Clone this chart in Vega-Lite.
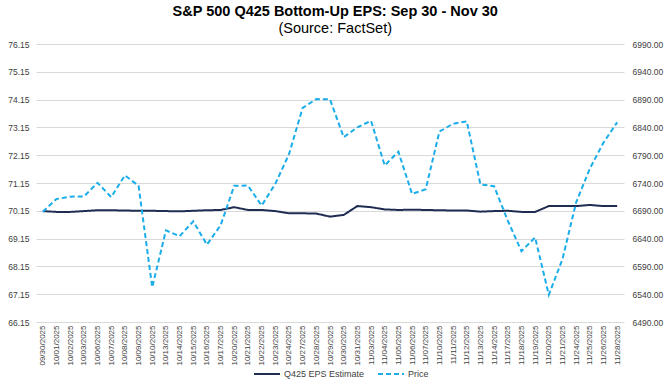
{
  "$schema": "https://vega.github.io/schema/vega-lite/v6.json",
  "width": 588,
  "height": 278,
  "autosize": {"type": "none"},
  "padding": {"left": 36, "top": 44, "right": 48, "bottom": 62},
  "background": "white",
  "config": {
    "font": "Liberation Sans",
    "view": {"stroke": null}
  },
  "title": {
    "text": "S&P 500 Q425 Bottom-Up EPS: Sep 30 - Nov 30",
    "subtitle": "(Source: FactSet)",
    "anchor": "middle",
    "frame": "bounds",
    "fontSize": 14.5,
    "fontWeight": "bold",
    "color": "#000000",
    "subtitleFontSize": 14.5,
    "subtitleColor": "#000000",
    "subtitlePadding": 2,
    "offset": 4
  },
  "data": {
    "values": [
      {"date": "09/30/2025", "eps": 70.14, "price": 6688.46},
      {"date": "10/01/2025", "eps": 70.11, "price": 6711.20},
      {"date": "10/02/2025", "eps": 70.11, "price": 6715.35},
      {"date": "10/03/2025", "eps": 70.14, "price": 6715.79},
      {"date": "10/06/2025", "eps": 70.17, "price": 6740.28},
      {"date": "10/07/2025", "eps": 70.17, "price": 6714.59},
      {"date": "10/08/2025", "eps": 70.16, "price": 6753.72},
      {"date": "10/09/2025", "eps": 70.15, "price": 6735.11},
      {"date": "10/10/2025", "eps": 70.15, "price": 6552.51},
      {"date": "10/13/2025", "eps": 70.14, "price": 6654.72},
      {"date": "10/14/2025", "eps": 70.13, "price": 6644.31},
      {"date": "10/15/2025", "eps": 70.15, "price": 6671.06},
      {"date": "10/16/2025", "eps": 70.17, "price": 6629.07},
      {"date": "10/17/2025", "eps": 70.18, "price": 6664.01},
      {"date": "10/20/2025", "eps": 70.28, "price": 6735.13},
      {"date": "10/21/2025", "eps": 70.18, "price": 6735.35},
      {"date": "10/22/2025", "eps": 70.18, "price": 6699.40},
      {"date": "10/23/2025", "eps": 70.14, "price": 6738.44},
      {"date": "10/24/2025", "eps": 70.06, "price": 6791.69},
      {"date": "10/27/2025", "eps": 70.06, "price": 6875.16},
      {"date": "10/28/2025", "eps": 70.05, "price": 6890.89},
      {"date": "10/29/2025", "eps": 69.94, "price": 6890.59},
      {"date": "10/30/2025", "eps": 70.00, "price": 6822.34},
      {"date": "10/31/2025", "eps": 70.32, "price": 6840.20},
      {"date": "11/03/2025", "eps": 70.28, "price": 6851.97},
      {"date": "11/04/2025", "eps": 70.20, "price": 6771.55},
      {"date": "11/05/2025", "eps": 70.18, "price": 6796.29},
      {"date": "11/06/2025", "eps": 70.19, "price": 6720.32},
      {"date": "11/07/2025", "eps": 70.18, "price": 6728.80},
      {"date": "11/10/2025", "eps": 70.17, "price": 6832.43},
      {"date": "11/11/2025", "eps": 70.16, "price": 6846.61},
      {"date": "11/12/2025", "eps": 70.16, "price": 6850.92},
      {"date": "11/13/2025", "eps": 70.12, "price": 6737.49},
      {"date": "11/14/2025", "eps": 70.14, "price": 6734.11},
      {"date": "11/17/2025", "eps": 70.15, "price": 6672.41},
      {"date": "11/18/2025", "eps": 70.11, "price": 6617.32},
      {"date": "11/19/2025", "eps": 70.11, "price": 6642.16},
      {"date": "11/20/2025", "eps": 70.32, "price": 6538.76},
      {"date": "11/21/2025", "eps": 70.32, "price": 6602.99},
      {"date": "11/24/2025", "eps": 70.32, "price": 6705.12},
      {"date": "11/25/2025", "eps": 70.36, "price": 6765.88},
      {"date": "11/26/2025", "eps": 70.32, "price": 6812.61},
      {"date": "11/28/2025", "eps": 70.32, "price": 6849.09}
    ]
  },
  "transform": [{"fold": ["eps", "price"], "as": ["series", "value"]}],
  "encoding": {
    "x": {
      "field": "date",
      "type": "ordinal",
      "sort": null,
      "scale": {"type": "point", "padding": 0.5},
      "axis": {
        "title": null,
        "labelAngle": 270,
        "labelFontSize": 8,
        "labelColor": "#404040",
        "labelPadding": 3,
        "ticks": false,
        "domain": false,
        "grid": false
      }
    },
    "color": {
      "field": "series",
      "type": "nominal",
      "scale": {"domain": ["eps", "price"], "range": ["#1F2D52", "#1AADEA"]},
      "legend": {
        "title": null,
        "orient": "none",
        "legendX": 217,
        "legendY": 316,
        "direction": "horizontal",
        "symbolType": "stroke",
        "symbolSize": 676,
        "symbolStrokeWidth": 2,
        "labelFontSize": 9,
        "labelColor": "#404040",
        "labelOffset": 3,
        "columnPadding": 9,
        "labelExpr": "datum.label === 'eps' ? 'Q425 EPS Estimate' : 'Price'"
      }
    },
    "strokeDash": {
      "field": "series",
      "type": "nominal",
      "scale": {"domain": ["eps", "price"], "range": [[1, 0], [5, 3]]},
      "legend": {
        "title": null,
        "orient": "none",
        "legendX": 217,
        "legendY": 316,
        "direction": "horizontal",
        "symbolType": "stroke",
        "symbolSize": 676,
        "symbolStrokeWidth": 2,
        "labelFontSize": 9,
        "labelColor": "#404040",
        "labelOffset": 3,
        "columnPadding": 9,
        "labelExpr": "datum.label === 'eps' ? 'Q425 EPS Estimate' : 'Price'"
      }
    }
  },
  "layer": [
    {
      "transform": [{"filter": "datum.series === 'eps'"}],
      "mark": {"type": "line", "strokeWidth": 2},
      "encoding": {
        "y": {
          "field": "value",
          "type": "quantitative",
          "scale": {"domain": [66.15, 76.15], "nice": false, "zero": false},
          "axis": {
            "title": null,
            "orient": "left",
            "values": [66.15, 67.15, 68.15, 69.15, 70.15, 71.15, 72.15, 73.15, 74.15, 75.15, 76.15],
            "format": ".2f",
            "labelFontSize": 8.5,
            "labelColor": "#404040",
            "labelPadding": 7,
            "ticks": false,
            "domain": false,
            "grid": true,
            "gridColor": "#D9D9D9",
            "gridWidth": 1
          }
        }
      }
    },
    {
      "transform": [{"filter": "datum.series === 'price'"}],
      "mark": {"type": "line", "strokeWidth": 2},
      "encoding": {
        "y": {
          "field": "value",
          "type": "quantitative",
          "scale": {"domain": [6490, 6990], "nice": false, "zero": false},
          "axis": {
            "title": null,
            "orient": "right",
            "values": [6490, 6540, 6590, 6640, 6690, 6740, 6790, 6840, 6890, 6940, 6990],
            "format": ".2f",
            "labelFontSize": 8.5,
            "labelColor": "#404040",
            "labelPadding": 8,
            "ticks": false,
            "domain": false,
            "grid": false
          }
        }
      }
    }
  ],
  "resolve": {"scale": {"y": "independent"}}
}
